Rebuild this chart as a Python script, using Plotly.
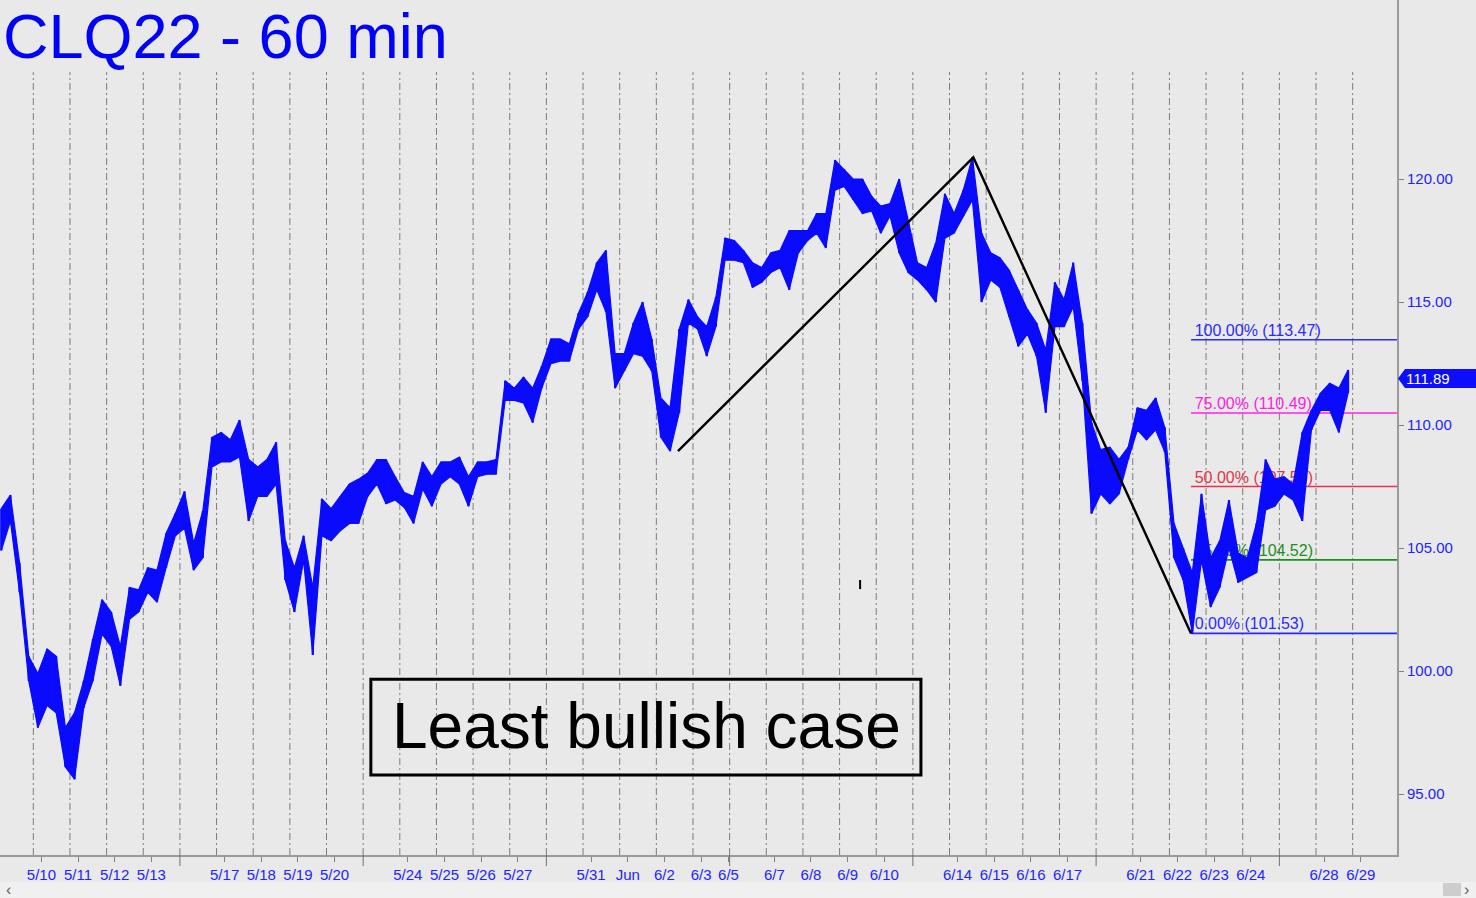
import plotly.graph_objects as go

FONT = "Liberation Sans, Arial, Helvetica, sans-serif"
TXT_BLUE = "#2323ff"
PRICE_BLUE = "#0a0aff"

# ---------------- data ----------------
# x axis unit = one trading session (session 0 = 5/10 session)
tick_labels = ["5/10", "5/11", "5/12", "5/13", "5/17", "5/18", "5/19", "5/20",
               "5/24", "5/25", "5/26", "5/27", "5/31", "Jun", "6/2", "6/3", "6/5",
               "6/7", "6/8", "6/9", "6/10", "6/14", "6/15", "6/16", "6/17",
               "6/21", "6/22", "6/23", "6/24", "6/28", "6/29"]
tick_sessions = [0, 1, 2, 3, 5, 6, 7, 8, 10, 11, 12, 13, 15, 16, 17, 18, 18.75,
                 20, 21, 22, 23, 25, 26, 27, 28, 30, 31, 32, 33, 35, 36]
week_start_sessions = [4, 9, 14, 19, 24, 29, 34]
n_sessions = 37

# 60-min price action, grouped 4 groups per session: group highs / lows
hi = [106.6, 107.15, 104.4, 100.6, 99.9, 100.9, 100.6, 97.7, 98.3, 99.6,
      101.3, 102.9, 102.4, 101.0, 103.4, 103.3, 104.2, 104.1, 105.6, 106.4,
      107.3, 105.2, 106.5, 109.5, 109.7, 109.4, 110.2, 108.6, 108.3, 108.6,
      109.3, 105.3, 104.2, 105.5, 103.4, 107.0, 106.6, 107.1, 107.6, 107.8,
      108.05, 108.6, 108.6, 107.9, 107.25, 107.1, 108.5, 107.9, 108.5, 108.5,
      108.7, 107.9, 108.5, 108.5, 108.6, 111.8, 111.5, 111.95, 111.5, 112.4,
      113.5, 113.5, 113.3, 114.55, 115.4, 116.6, 117.1, 112.9, 112.9, 114.15,
      115.0, 113.5, 111.1, 110.7, 113.9, 115.1, 114.4, 114.0, 115.2, 117.6,
      117.5, 117.1, 116.6, 116.4, 117.0, 117.1, 117.9, 117.9, 117.9, 118.6,
      118.6, 120.77, 120.4, 120.0, 120.0, 119.3, 118.9, 119.0, 120.0, 118.3,
      116.6, 116.4, 117.4, 119.4, 118.6, 119.55, 120.88, 117.8, 117.0, 116.8,
      116.3, 115.5, 114.7, 114.15, 113.05, 115.8, 115.1, 116.6, 114.15, 110.1,
      109.0, 109.1, 108.6, 109.1, 110.7, 110.6, 111.1, 109.9, 106.0, 105.0,
      104.0, 107.2, 104.6, 105.3, 106.95, 104.8, 104.6, 106.0, 108.6, 107.8,
      107.9, 107.6, 109.7, 110.6, 111.3, 111.7, 111.5, 112.24]
lo = [104.9, 106.1, 103.2, 99.6, 97.7, 98.6, 98.3, 96.1, 95.6, 98.5,
      99.6, 101.5, 101.0, 99.4, 102.1, 102.4, 103.2, 102.8, 104.2, 105.5,
      105.8, 104.1, 104.6, 108.3, 108.5, 108.5, 108.7, 106.1, 107.1, 107.1,
      107.6, 103.7, 102.4, 104.5, 100.65, 105.5, 105.3, 105.7, 106.0, 106.0,
      107.1, 107.6, 106.8, 106.95, 106.65, 106.0, 107.4, 106.7, 107.6, 107.9,
      107.6, 106.7, 107.9, 108.0, 108.0, 111.0, 111.0, 110.9, 110.1, 111.5,
      112.5, 112.6, 112.6, 113.9, 114.4, 115.5, 114.6, 111.5, 112.2, 112.9,
      112.8, 112.2, 109.5, 108.94, 110.5, 114.15, 113.9, 112.8, 114.0, 116.7,
      116.7, 116.6, 115.6, 115.8, 116.2, 116.4, 115.5, 117.0, 117.5, 117.8,
      117.2, 119.55, 119.7, 119.15, 118.6, 118.7, 117.8, 118.5, 117.0, 116.2,
      115.9, 115.5, 115.0, 117.6, 117.8, 118.5, 119.15, 115.0, 115.9, 115.6,
      114.4, 113.2, 113.7, 112.8, 110.5, 114.0, 114.0, 114.8, 111.8, 106.4,
      107.2, 106.8, 107.2, 108.6, 109.8, 109.4, 109.8, 108.9, 104.6, 103.7,
      101.53, 104.5, 102.6, 103.4, 105.0, 103.6, 103.8, 104.0, 106.55, 106.7,
      107.2, 106.95, 106.1, 109.8, 110.6, 110.6, 109.7, 111.3]
first_group_session = -0.875
groups_per_session = 4
last_price = 111.89

pivot_sessions = [17.59, 25.65, 31.59]
pivot_prices = [108.94, 120.88, 101.53]

fib_labels = ["100.00%", "75.00%", "50.00%", "25.00%", "0.00%"]
fib_values = [113.47, 110.49, 107.50, 104.52, 101.53]
fib_colors = ["#2b2bff", "#ff22dd", "#e0344e", "#1d8f1d", "#2b2bff"]

y_ticks = [95, 100, 105, 110, 115, 120]

title_text = "CLQ22 - 60 min"
box_text = "Least bullish case"

# ---------------- layout constants ----------------
W, H = 1476, 898
PLOT_W, PLOT_H = 1397, 855
X_RANGE = [-0.909, 37.21]
Y_RANGE = [92.52, 127.28]


def px_x(p):   # figure px -> paper x
    return p / PLOT_W


def px_y(p):   # figure px -> paper y
    return 1 - p / PLOT_H


times = [first_group_session + i / groups_per_session for i in range(len(hi))]

fig = go.Figure()

# fib levels (below price)
x_end = X_RANGE[1]
for lab, val, col in zip(fib_labels, fib_values, fib_colors):
    fig.add_trace(go.Scatter(x=[pivot_sessions[2], x_end], y=[val, val], mode="lines",
                             line=dict(color=col, width=1.6), hoverinfo="skip"))
    fig.add_trace(go.Scatter(x=[pivot_sessions[2] + 0.1], y=[val], mode="text",
                             text=[f"{lab} ({val:.2f})"], textposition="top right",
                             textfont=dict(family=FONT, size=16, color=col),
                             hoverinfo="skip"))

# price band
fig.add_trace(go.Scatter(x=times + times[::-1], y=hi + lo[::-1], mode="lines",
                         fill="toself", fillcolor=PRICE_BLUE,
                         line=dict(color=PRICE_BLUE, width=1.2), hoverinfo="skip"))
fig.add_trace(go.Scatter(x=[t for t in times for _ in (0, 1, 2)],
                         y=[v for a, b in zip(hi, lo) for v in (a, b, None)],
                         mode="lines", line=dict(color=PRICE_BLUE, width=2.2),
                         hoverinfo="skip"))

# zigzag
fig.add_trace(go.Scatter(x=pivot_sessions, y=pivot_prices, mode="lines",
                         line=dict(color="black", width=2.4), hoverinfo="skip"))

shapes = []
# session grid lines
for k in range(n_sessions):
    shapes.append(dict(type="line", xref="x", yref="paper", x0=k, x1=k,
                       y0=0, y1=px_y(72), layer="below",
                       line=dict(color="#7c7c7c", width=1, dash="7px,3px,2px,3px")))
# week-start long ticks
for k in week_start_sessions:
    shapes.append(dict(type="line", xref="x", yref="paper", x0=k, x1=k,
                       y0=0, y1=px_y(866), line=dict(color="#707070", width=1)))
# annotation box
shapes.append(dict(type="rect", xref="x", yref="y", x0=9.21, x1=24.22,
                   y0=95.77, y1=99.67, line=dict(color="black", width=3)))
# small mark
shapes.append(dict(type="line", xref="x", yref="y", x0=22.56, x1=22.56,
                   y0=103.33, y1=103.7, line=dict(color="black", width=2)))
# last price tag
half = 9.5 / 24.6
yt, yb = last_price + half, last_price - half
shapes.append(dict(type="path", xref="paper", yref="y",
                   path=(f"M {px_x(1398)},{last_price} L {px_x(1405)},{yt} "
                         f"L {px_x(1476)},{yt} L {px_x(1476)},{yb} "
                         f"L {px_x(1405)},{yb} Z"),
                   fillcolor="#0d0dff", line=dict(width=0)))
# scrollbar
shapes.append(dict(type="rect", xref="paper", yref="paper", x0=0, x1=px_x(W),
                   y0=px_y(882), y1=px_y(898), fillcolor="#f0f0f0",
                   line=dict(width=0), layer="below"))
shapes.append(dict(type="rect", xref="paper", yref="paper", x0=px_x(1443),
                   x1=px_x(1461), y0=px_y(883), y1=px_y(896), fillcolor="#cdcdcd",
                   line=dict(width=0)))

annotations = [
    dict(text=title_text, xref="paper", yref="paper", x=px_x(1), y=px_y(36),
         xanchor="left", yanchor="middle", showarrow=False,
         font=dict(family=FONT, size=63, color="#0000ff")),
    dict(text=box_text, xref="x", yref="y", x=16.72, y=97.75,
         xanchor="center", yanchor="middle", showarrow=False,
         font=dict(family=FONT, size=64, color="black")),
    dict(text=f"{last_price:.2f}", xref="paper", yref="y", x=px_x(1404), y=last_price,
         xanchor="left", yanchor="middle", showarrow=False,
         font=dict(family=FONT, size=15, color="white")),
    dict(text="‹", xref="paper", yref="paper", x=px_x(8), y=px_y(889),
         xanchor="center", yanchor="middle", showarrow=False,
         font=dict(family=FONT, size=16, color="#606060")),
    dict(text="›", xref="paper", yref="paper", x=px_x(1467), y=px_y(889),
         xanchor="center", yanchor="middle", showarrow=False,
         font=dict(family=FONT, size=16, color="#606060")),
]

fig.update_layout(
    width=W, height=H,
    margin=dict(l=0, r=W - PLOT_W, t=0, b=H - PLOT_H, pad=0),
    paper_bgcolor="#e9e9e9", plot_bgcolor="#e9e9e9",
    showlegend=False,
    shapes=shapes, annotations=annotations,
    xaxis=dict(range=X_RANGE, showgrid=False, zeroline=False,
               showline=True, linecolor="#9a9a9a", linewidth=1.5,
               tickmode="array",
               tickvals=[s + 0.22 for s in tick_sessions], ticktext=tick_labels,
               ticks="outside", ticklen=5, tickcolor="#808080", tickwidth=1,
               tickfont=dict(family=FONT, size=15, color=TXT_BLUE)),
    yaxis=dict(range=Y_RANGE, side="right", showgrid=False, zeroline=False,
               showline=True, linecolor="#9a9a9a", linewidth=2, mirror=False,
               tickmode="array", tickvals=y_ticks,
               ticktext=[f"{v:.2f}" for v in y_ticks],
               ticks="outside", ticklen=5, tickcolor="#808080",
               tickfont=dict(family=FONT, size=15, color=TXT_BLUE)),
)

fig.write_html("out.html", config={"displayModeBar": False},
               post_script="document.body.style.margin='0';")
